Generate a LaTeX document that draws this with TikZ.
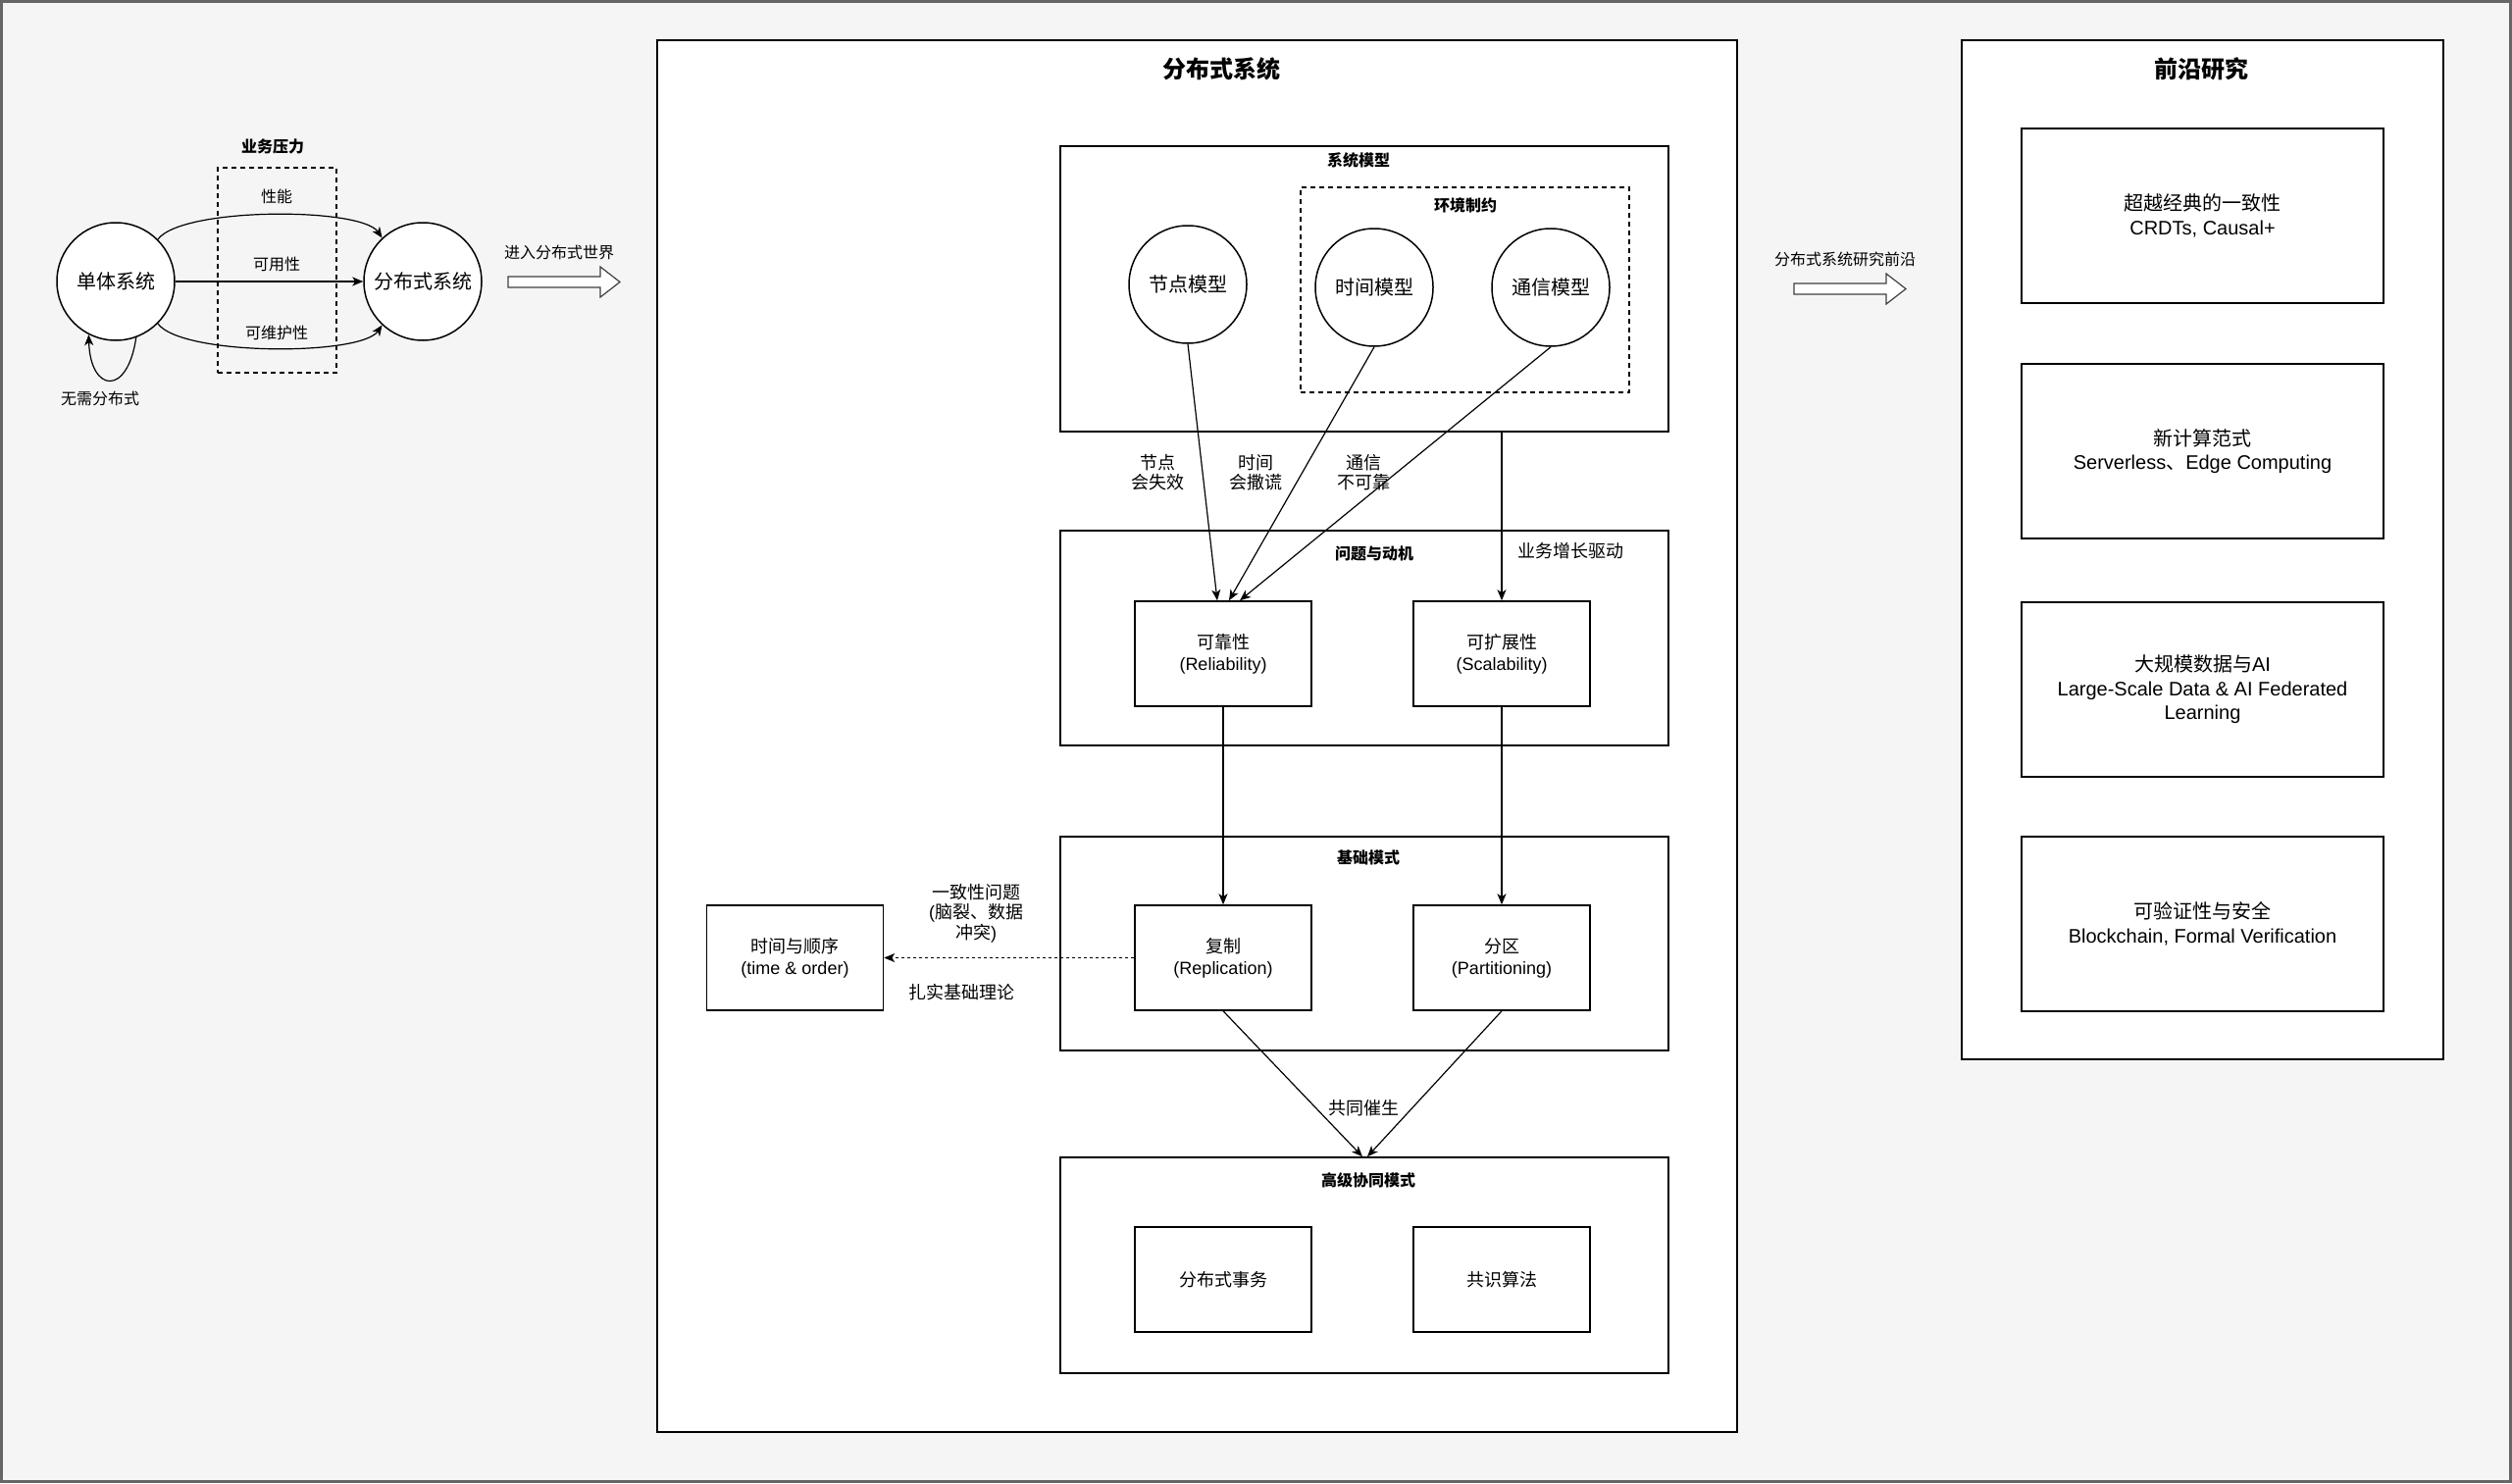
\documentclass[tikz,border=0pt]{standalone}
\usepackage{fontspec}
\setmainfont{Noto Sans CJK SC}
\newfontfamily\lat{Liberation Sans}
\usetikzlibrary{arrows.meta,shapes.geometric}
\definecolor{bgc}{HTML}{F5F5F5}
\definecolor{frm}{HTML}{666666}
\begin{document}
\begin{tikzpicture}[x=1pt,y=-1pt,
  box/.style={draw=black,line width=1.5pt,fill=white,rectangle,inner sep=0pt},
  dbox/.style={draw=black,line width=1.2pt,rectangle,dash pattern=on 5pt off 4pt,inner sep=0pt},
  small/.style={box,minimum width=180pt,minimum height=107pt,align=center,font=\fontsize{18}{22}\selectfont},
  rbox/.style={box,minimum width=369pt,minimum height=178pt,align=center,font=\fontsize{20}{24.5}\selectfont},
  circ/.style={draw=black,line width=1.5pt,fill=white,ellipse,minimum width=120pt,minimum height=120pt,inner sep=0pt,
    label={[font=\fontsize{20}{24}\selectfont,inner sep=0pt]center:#1}},
  lbl/.style={align=center,inner sep=0pt,font=\fontsize{16}{19}\selectfont},
  lblm/.style={align=center,inner sep=0pt,font=\fontsize{18}{20.5}\selectfont},
  lblb/.style={align=center,inner sep=0pt,font=\fontsize{16}{19}\selectfont\bfseries},
  ttl/.style={inner sep=0pt,font=\fontsize{24}{28}\selectfont\bfseries},
  arr/.style={-{Stealth[length=11pt,width=9pt,inset=3pt]},line width=1.2pt},
  barrow/.style={draw=black!75,fill=white,line width=1.2pt,line join=miter}
]
% background
\fill[bgc] (0,0) rectangle (2561,1512);
\draw[frm,line width=3pt] (1.5,1.5) rectangle (2559.5,1510.5);
\useasboundingbox (0,0) rectangle (2561,1512);

% ---------- left part ----------
\node[dbox,minimum width=121pt,minimum height=209pt] (press) at (282.5,275.5) {};
\node[lblb] (presslbl) at (278,149) {业务压力};
\node[circ=单体系统] (mono) at (118,287) {};
\node[circ=分布式系统] (dist) at (431,287) {};
\node[lbl] (perf) at (282,200) {性能};
\node[lbl] (avail) at (282,269) {可用性};
\node[lbl] (maint) at (282,339) {可维护性};
\draw[arr] (mono.45) .. controls (185,211) and (368,211) .. (dist.133);
\draw[arr] (mono) -- (dist);
\draw[arr] (mono.-45) .. controls (185,363) and (368,363) .. (dist.-133);
\draw[arr] (mono.-70) .. controls (130,405) and (92,400) .. (mono.-117);
\node[lbl] (nodist) at (102,406) {无需分布式};
\node[lbl] (enter) at (570,257) {进入分布式世界};
\draw[barrow] (518,282) -- (612,282) -- (612,272) -- (632,287.5) -- (612,303) -- (612,293) -- (518,293) -- cycle;

% ---------- main box ----------
\node[box,minimum width=1101pt,minimum height=1419pt] (main) at (1220.5,750.5) {};
\node[ttl] (maintitle) at (1245,70) {分布式系统};

\node[box,minimum width=620pt,minimum height=291pt] (sysm) at (1391,294.5) {};
\node[lblb] (sysmlbl) at (1385,163) {系统模型};
\node[dbox,minimum width=335pt,minimum height=209pt] (env) at (1493.5,295.5) {};
\node[lblb] (envlbl) at (1494,209) {环境制约};
\node[circ=节点模型] (nodem) at (1211,290) {};
\node[circ=时间模型] (timem) at (1401,293) {};
\node[circ=通信模型] (commm) at (1581,293) {};

\node[box,minimum width=620pt,minimum height=219pt] (prob) at (1391,650.5) {};
\node[lblb] (problbl) at (1401,564) {问题与动机};
\node[small] (rel) at (1247,666.5) {可靠性\\{\lat (Reliability)}};
\node[small] (scal) at (1531,666.5) {可扩展性\\{\lat (Scalability)}};

\node[box,minimum width=620pt,minimum height=218pt] (base) at (1391,962) {};
\node[lblb] (baselbl) at (1395,874) {基础模式};
\node[small] (rep) at (1247,976.5) {复制\\{\lat (Replication)}};
\node[small] (part) at (1531,976.5) {分区\\{\lat (Partitioning)}};
\node[small] (tao) at (810.5,976.5) {时间与顺序\\{\lat (time \& order)}};

\node[box,minimum width=620pt,minimum height=220pt] (adv) at (1391,1290) {};
\node[lblb] (advlbl) at (1395,1203) {高级协同模式};
\node[small] (tx) at (1247,1304.5) {分布式事务};
\node[small] (cons) at (1531,1304.5) {共识算法};

% connectors
\draw[arr] (nodem.south) -- ([xshift=-6pt]rel.north);
\draw[arr] (timem.south) -- ([xshift=6pt]rel.north);
\draw[arr] (commm.south) -- ([xshift=17pt]rel.north);
\draw[arr] (sysm.south -| scal.north) -- (scal.north);
\draw[arr] (rel.south) -- (rep.north);
\draw[arr] (scal.south) -- (part.north);
\draw[arr,dash pattern=on 3pt off 3pt] (rep.west) -- (tao.east);
\draw[arr] (rep.south) -- ([xshift=-2pt]adv.north);
\draw[arr] (part.south) -- ([xshift=3pt]adv.north);

\node[lblm] (l1) at (1180,481.5) {节点\\会失效};
\node[lblm] (l2) at (1280,481.5) {时间\\会撒谎};
\node[lblm] (l3) at (1390,481.5) {通信\\不可靠};
\node[lblm] (l4) at (1601,562) {业务增长驱动};
\node[lblm] (l5) at (995,931) {一致性问题\\{\lat (}脑裂、数据\\冲突{\lat )}};
\node[lblm] (l6) at (980,1012) {扎实基础理论};
\node[lblm] (l7) at (1390,1130) {共同催生};

% ---------- right part ----------
\node[lbl] (front) at (1881,264) {分布式系统研究前沿};
\draw[barrow] (1829,289) -- (1923,289) -- (1923,279) -- (1943,294.5) -- (1923,310) -- (1923,300) -- (1829,300) -- cycle;

\node[box,minimum width=491pt,minimum height=1039pt] (rmain) at (2245.5,560.5) {};
\node[ttl] (rtitle) at (2244,70) {前沿研究};
\node[rbox] (r1) at (2245.5,220) {超越经典的一致性\\{\lat CRDTs, Causal+}};
\node[rbox] (r2) at (2245.5,460) {新计算范式\\{\lat Serverless}、{\lat Edge Computing}};
\node[rbox] (r3) at (2245.5,703) {大规模数据与{\lat AI}\\{\lat Large-Scale Data \& AI Federated}\\{\lat Learning}};
\node[rbox] (r4) at (2245.5,942) {可验证性与安全\\{\lat Blockchain, Formal Verification}};
\end{tikzpicture}
\end{document}
